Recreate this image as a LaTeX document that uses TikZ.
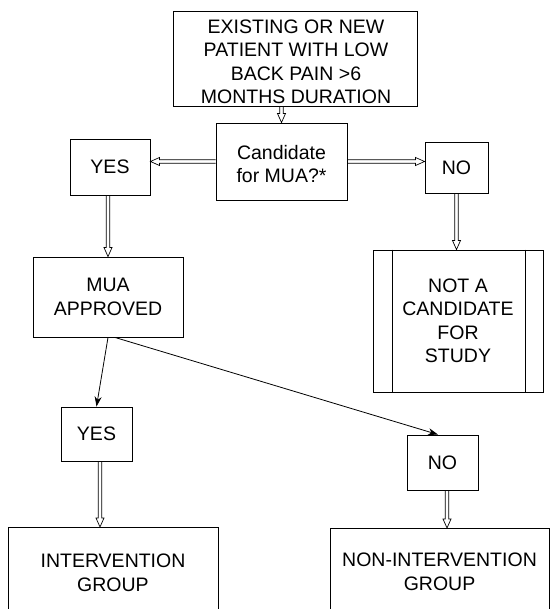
\documentclass[tikz,border=0pt]{standalone}
\usepackage{fontspec}
\setmainfont{Liberation Sans}
\usetikzlibrary{arrows.meta,calc}
\tikzset{
  lbl/.style={font=\fontsize{19.5}{23.5}\selectfont, align=center},
  box/.style={draw, line width=0.9pt, lbl, inner sep=0pt},
  txt/.style={lbl, inner sep=0pt},
  conn/.style={line width=0.7pt},
  sarrow/.style={line width=0.8pt, -{Stealth[length=10pt,width=7pt]}},
}
\newcommand\dbldown[2]{\draw[conn] let \p1=#1, \p2=#2 in
  (\x1-1.8pt,\y1) -- (\x1-1.8pt,\y2+9pt) -- (\x1-4pt,\y2+9pt) -- (\x1,\y2)
  -- (\x1+4pt,\y2+9pt) -- (\x1+1.8pt,\y2+9pt) -- (\x1+1.8pt,\y1);}
\newcommand\dblleft[2]{\draw[conn] let \p1=#1, \p2=#2 in
  (\x1,\y1+1.8pt) -- (\x2+9pt,\y1+1.8pt) -- (\x2+9pt,\y1+4pt) -- (\x2,\y1)
  -- (\x2+9pt,\y1-4pt) -- (\x2+9pt,\y1-1.8pt) -- (\x1,\y1-1.8pt);}
\newcommand\dblright[2]{\draw[conn] let \p1=#1, \p2=#2 in
  (\x1,\y1+1.8pt) -- (\x2-9pt,\y1+1.8pt) -- (\x2-9pt,\y1+4pt) -- (\x2,\y1)
  -- (\x2-9pt,\y1-4pt) -- (\x2-9pt,\y1-1.8pt) -- (\x1,\y1-1.8pt);}
\begin{document}
\begin{tikzpicture}[x=1pt,y=-1pt]
\path[use as bounding box] (0,0) rectangle (551,609);
\fill[white] (0,0) rectangle (551,609);
\clip (0,0) rectangle (551,609);

\node[box, minimum width=244pt, minimum height=95pt] (top) at (295,58.5) {};
\node[txt] (topt) at (296,62)
  {EXISTING OR NEW\\PATIENT WITH LOW\\BACK PAIN >6\\MONTHS DURATION};
\node[box, minimum width=131pt, minimum height=77pt] (cand) at (281.5,161.5) {};
\node[txt] (candt) at (281.5,164) {Candidate\\for MUA?*};
\node[box, minimum width=80pt, minimum height=56pt] (yes) at (110,167) {YES};
\node[box, minimum width=63pt, minimum height=51pt] (no) at (456.5,167.5) {NO};
\node[box, minimum width=150pt, minimum height=80pt] (mua) at (108,297)
  {MUA\\APPROVED};
\node[box, minimum width=170pt, minimum height=142pt] (notc) at (458,321)
  {NOT A\\CANDIDATE\\FOR\\STUDY};
\draw[line width=0.9pt] ($(notc.north west)+(20,0)$) -- ($(notc.south west)+(20,0)$);
\draw[line width=0.9pt] ($(notc.north east)+(-18,0)$) -- ($(notc.south east)+(-18,0)$);
\node[box, minimum width=71pt, minimum height=54pt] (yes2) at (96.5,434) {YES};
\node[box, minimum width=71pt, minimum height=55pt] (no2) at (442.5,462.5) {NO};
\node[box, minimum width=210pt, minimum height=120pt, anchor=north] (int) at (113,527) {};
\node[txt] (intt) at (113,573) {INTERVENTION\\GROUP};
\node[box, minimum width=219pt, minimum height=120pt, anchor=north] (nonint) at (439.5,528) {};
\node[txt] (nonintt) at (439.5,572) {NON-INTERVENTION\\GROUP};

\dbldown{(cand.north |- top.south)}{(cand.north)}
\dblleft{(cand.west)}{(cand.west -| yes.east)}
\dblright{(cand.east)}{(cand.east -| no.west)}
\dbldown{(mua.north |- yes.south)}{(mua.north)}
\dbldown{(no.south)}{(no.south |- notc.north)}
\coordinate (y2s) at ($(yes2.south)+(3.5,0)$);
\dbldown{(y2s)}{(y2s |- int.north)}
\coordinate (n2s) at ($(no2.south)+(4.5,0)$);
\dbldown{(n2s)}{(n2s |- nonint.north)}

\draw[sarrow] (mua.south) -- (yes2.north);
\draw[sarrow] ($(mua.south)+(7,0)$) -- ($(no2.north)+(-4.5,0)$);
\end{tikzpicture}
\end{document}
